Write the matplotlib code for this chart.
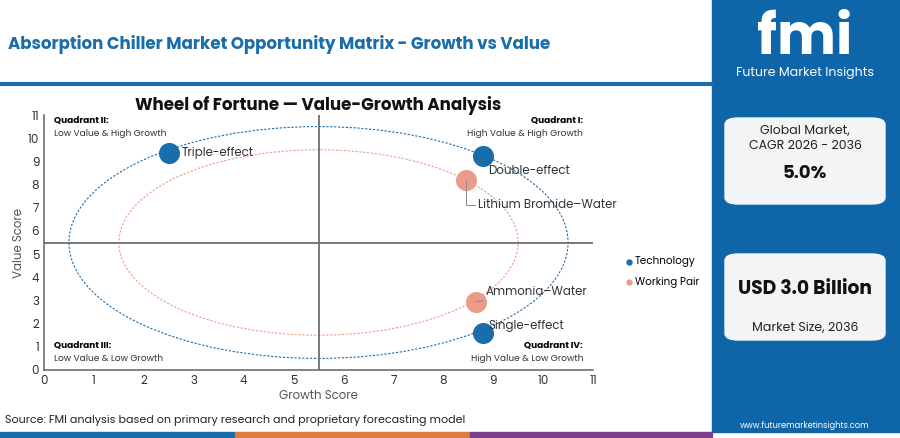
import matplotlib.pyplot as plt
from matplotlib.patches import Ellipse, FancyBboxPatch, Rectangle

plt.rcParams['font.family'] = ['Poppins', 'Lato', 'DejaVu Sans']

# data
tech_names = ["Triple-effect", "Double-effect", "Single-effect"]
tech_growth = [2.5, 8.8, 8.8]
tech_value = [9.35, 9.25, 1.6]
pair_names = ["Lithium Bromide\u2013Water", "Ammonia\u2013Water"]
pair_growth = [8.45, 8.65]
pair_value = [8.2, 2.95]
ticks = list(range(12))

BLUE = "#1a6dab"
ORANGE = "#eb9b8a"
GRAY = "#6e6e6e"

fig = plt.figure(figsize=(9, 4.38), dpi=100)
W, H = 900, 438

def fx(px): return px / W
def fy(py): return 1 - py / H

# header
fig.text(fx(8), fy(45), "Absorption Chiller Market Opportunity Matrix - Growth vs Value",
         fontsize=12, fontweight="bold", color=BLUE, va="center")
fig.add_artist(plt.Line2D([0, fx(712)], [fy(84), fy(84)], color=BLUE, lw=3))

# right panel
fig.add_artist(Rectangle((fx(712), fy(432)), 1 - fx(712), fy(0) - fy(432),
                         transform=fig.transFigure, color="#0e65a8", zorder=0))
fig.text(fx(805), fy(40), "fmi", fontsize=40, fontweight="bold", color="white",
         ha="center", va="center")
fig.text(fx(805), fy(73), "Future Market Insights", fontsize=9, color="white",
         ha="center", va="center")
for y0, y1 in [(118, 204), (254, 340)]:
    fig.add_artist(FancyBboxPatch((fx(725), fy(y1)), fx(885) - fx(725), fy(y0) - fy(y1),
                                  boxstyle="round,pad=0,rounding_size=0.015",
                                  transform=fig.transFigure, color="#f3f4f6", zorder=1))
fig.text(fx(805), fy(131), "Global Market,", fontsize=9, ha="center", va="center", color="#222222")
fig.text(fx(805), fy(146), "CAGR 2026 - 2036", fontsize=9, ha="center", va="center", color="#222222")
fig.text(fx(805), fy(174), "5.0%", fontsize=13, fontweight="bold", ha="center", va="center", color="#111111")
fig.text(fx(805), fy(289), "USD 3.0 Billion", fontsize=13.5, fontweight="bold", ha="center", va="center", color="#111111")
fig.text(fx(805), fy(328), "Market Size, 2036", fontsize=9, ha="center", va="center", color="#222222")
fig.text(fx(805), fy(426), "www.futuremarketinsights.com", fontsize=6, ha="center", va="center", color="white")

# bottom stripe
for x0, x1, c in [(0, 235, "#1a6dab"), (235, 470, "#e07a3f"), (470, 712, "#7b3f8c")]:
    fig.add_artist(Rectangle((fx(x0), 0), fx(x1) - fx(x0), fy(432), transform=fig.transFigure,
                             color=c, zorder=0))
fig.text(fx(5), fy(420), "Source: FMI analysis based on primary research and proprietary forecasting model",
         fontsize=8, color="#222222", va="center")

# chart
ax = fig.add_axes([fx(44), fy(370), fx(593) - fx(44), fy(115) - fy(370)])
ax.set_xlim(0, 11)
ax.set_ylim(0, 11)
ax.set_xticks(ticks)
ax.set_yticks(ticks)
ax.tick_params(length=0, labelsize=8.5, colors="#333333")
for s in ["top", "right"]:
    ax.spines[s].set_visible(False)
for s in ["left", "bottom"]:
    ax.spines[s].set_color(GRAY)
    ax.spines[s].set_linewidth(1.2)
ax.set_xlabel("Growth Score", fontsize=8.5, color="#555555", labelpad=2)
ax.set_ylabel("Value Score", fontsize=8.5, color="#555555", labelpad=2)
ax.set_title("Wheel of Fortune \u2014 Value-Growth Analysis", fontsize=12, fontweight="bold",
             color="#111111", pad=2)

ax.axvline(5.5, color=GRAY, lw=1.3)
ax.axhline(5.5, color=GRAY, lw=1.3)
ax.add_patch(Ellipse((5.5, 5.5), 10, 10, fill=False, ls=(0, (2, 1.5)), color=BLUE, lw=0.8))
ax.add_patch(Ellipse((5.5, 5.5), 8, 8, fill=False, ls=(0, (2, 1.5)), color=ORANGE, lw=0.8))

ax.scatter(tech_growth, tech_value, s=200, color=BLUE, zorder=3, label="Technology")
ax.scatter(pair_growth, pair_value, s=200, color=ORANGE, zorder=3, label="Working Pair")

ax.text(2.75, 9.35, tech_names[0], fontsize=8.5, va="center", color="#333333")
ax.text(8.9, 8.6, tech_names[1], fontsize=8.5, va="center", color="#333333")
ax.text(8.9, 1.9, tech_names[2], fontsize=8.5, va="center", color="#333333")
ax.annotate(pair_names[0], xy=(pair_growth[0], pair_value[0]), xytext=(8.7, 7.1),
            fontsize=8.5, va="center", color="#333333",
            arrowprops=dict(arrowstyle="-", color="#888888", lw=0.7, shrinkA=0, shrinkB=0,
                            connectionstyle="angle,angleA=0,angleB=90,rad=0"))
ax.annotate(pair_names[1], xy=(pair_growth[1], pair_value[1]), xytext=(8.85, 3.35),
            fontsize=8.5, va="center", color="#333333",
            arrowprops=dict(arrowstyle="-", color="#888888", lw=0.7, shrinkA=0, shrinkB=0))

ax.text(0.2, 10.75, "Quadrant II:", fontsize=6.5, fontweight="bold", va="center")
ax.text(0.2, 10.2, "Low Value & High Growth", fontsize=6.5, va="center", color="#333333")
ax.text(10.8, 10.75, "Quadrant I:", fontsize=6.5, fontweight="bold", va="center", ha="right")
ax.text(10.8, 10.2, "High Value & High Growth", fontsize=6.5, va="center", ha="right", color="#333333")
ax.text(0.2, 1.05, "Quadrant III:", fontsize=6.5, fontweight="bold", va="center")
ax.text(0.2, 0.5, "Low Value & Low Growth", fontsize=6.5, va="center", color="#333333")
ax.text(10.8, 1.05, "Quadrant IV:", fontsize=6.5, fontweight="bold", va="center", ha="right")
ax.text(10.8, 0.5, "High Value & Low Growth", fontsize=6.5, va="center", ha="right", color="#333333")

fig.legend(loc="center left", bbox_to_anchor=(fx(614), fy(272)), frameon=False, fontsize=7.5,
           markerscale=0.25, handletextpad=0.1, labelspacing=0.9, handlelength=1)

fig.savefig("out.png", dpi=100)
